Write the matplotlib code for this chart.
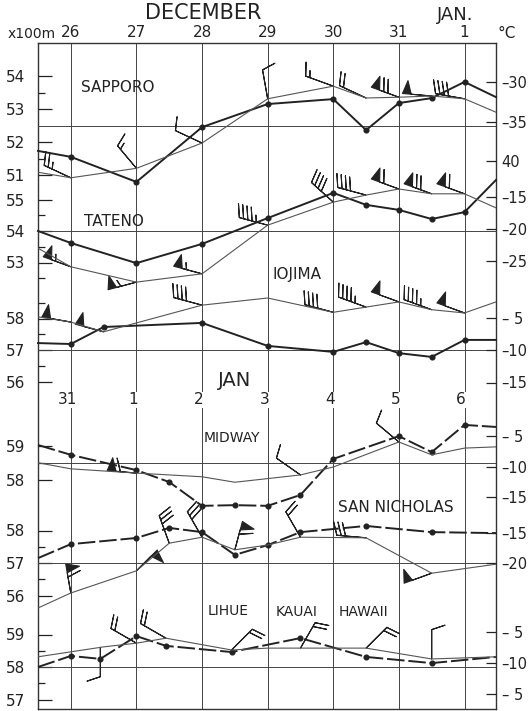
import numpy as np
import matplotlib.pyplot as plt

W, H = 530, 711
X0, X1, Y0, Y1 = 38, 496, 43, 709      # plot box in pixels
DMIN, DMAX = -0.5, 6.48                # day range across the box

dec_labels = ['26', '27', '28', '29', '30', '31', '1']
jan_labels = ['31', '1', '2', '3', '4', '5', '6']

# ---- SAPPORO ----
sap_hd = [-0.5, 0, 1, 2, 3, 4, 4.5, 5, 5.5, 6, 6.48]
sap_h = [51.73, 51.55, 50.79, 52.45, 53.15, 53.3, 52.36, 53.18, 53.33, 53.82, 53.36]
sap_td = [-0.5, 0, 1, 2, 2.75, 3, 4, 4.5, 5, 5.5, 6, 6.48]
sap_t = [-41.4, -42.1, -40.9, -37.7, -33.5, -32.1, -30.5, -32.0, -31.9, -31.75, -32.1, -33.8]
sap_bd = [0, 1, 2, 3, 4, 4.5, 5, 5.5, 6]
sap_ba = [155, 130, 155, 100, 160, 155, 160, 175, 170]
sap_bs = [25, 15, 10, 10, 15, 20, 70, 50, 40]

# ---- TATENO ----
ten_hd = [-0.5, 0, 1, 2, 3, 4, 4.5, 5, 5.5, 6, 6.48]
ten_h = [54.0, 53.62, 52.98, 53.59, 54.41, 55.21, 54.83, 54.67, 54.38, 54.6, 55.62]
ten_td = [-0.5, 0, 1, 2, 3, 4, 4.5, 5, 5.5, 6, 6.48]
ten_t = [-23.0, -25.9, -28.3, -27.0, -19.4, -15.8, -14.7, -13.75, -14.5, -14.5, -16.7]
ten_bd = [0, 1, 2, 3, 4, 4.5, 5, 5.5, 6]
ten_ba = [160, 195, 165, 165, 138, 165, 160, 160, 160]
ten_bs = [55, 55, 55, 45, 40, 40, 60, 70, 60]

# ---- IOJIMA ----
ioj_hd = [-0.5, 0, 0.5, 2, 3, 4, 4.5, 5, 5.5, 6, 6.48]
ioj_h = [57.22, 57.19, 57.73, 57.86, 57.13, 56.94, 57.25, 56.9, 56.78, 57.32, 57.32]
ioj_td = [-0.5, 0, 0.5, 2, 3, 4, 4.5, 5, 5.5, 6, 6.48]
ioj_t = [-4.9, -5.7, -7.2, -3.1, -2.0, -4.2, -3.4, -2.6, -3.8, -4.3, -2.6]
ioj_bd = [0, 0.5, 2, 4, 4.5, 5, 5.5, 6]
ioj_ba = [170, 165, 165, 165, 160, 160, 160, 160]
ioj_bs = [50, 50, 40, 40, 45, 50, 45, 50]

# ---- MIDWAY ----
mid_hd = [-0.5, 0, 1, 1.5, 2, 2.5, 3, 3.5, 4, 5, 5.5, 6, 6.48]
mid_h = [59.03, 58.74, 58.29, 57.94, 57.24, 57.26, 57.24, 57.56, 58.62, 59.29, 58.82, 59.62, 59.56]
mid_td = [-0.5, 0, 1, 2, 2.5, 3.5, 4, 5, 5.5, 6, 6.48]
mid_t = [-9.3, -10.3, -11.0, -11.6, -12.5, -11.3, -10.0, -5.9, -8.0, -6.9, -6.7]
mid_bd = [1, 3.5, 5]
mid_ba = [175, 145, 140]
mid_bs = [60, 10, 10]

# ---- SAN NICHOLAS ----
sn_hd = [-0.5, 0, 1, 1.5, 2, 2.5, 3, 3.5, 4.5, 5.5, 6.48]
sn_h = [57.15, 57.58, 57.77, 58.08, 57.95, 57.25, 57.55, 57.95, 58.14, 57.95, 57.92]
sn_td = [-0.5, 0, 1, 1.5, 2, 2.5, 3, 3.5, 4.5, 5.5, 6.48]
sn_t = [-27.5, -25.0, -21.3, -16.7, -15.7, -17.8, -17.0, -15.7, -15.8, -21.7, -20.2]
sn_bd = [0, 1, 1.5, 2, 2.5, 3.5, 4.5, 5.5]
sn_ba = [100, 45, 110, 120, 75, 120, 175, 200]
sn_bs = [60, 50, 30, 30, 60, 20, 30, 50]

# ---- LIHUE / KAUAI / HAWAII ----
lih_hd = [-0.5, 0, 0.45, 1, 1.45, 2.45, 3.5, 4.5, 5.5, 6.48]
lih_h = [58.0, 58.34, 58.25, 58.95, 58.65, 58.46, 58.89, 58.31, 58.12, 58.31]
lih_td = [-0.5, 0, 0.5, 1, 1.45, 2.45, 3, 3.5, 4.5, 5.5, 6.48]
lih_t = [-9.0, -8.2, -7.4, -6.8, -6.0, -7.9, -7.6, -7.6, -7.6, -9.35, -9.0]
lih_bd = [0.45, 1, 1.45, 2.45, 3.5, 4.5, 5.5]
lih_ba = [270, 150, 150, 45, 60, 45, 90]
lih_bs = [10, 20, 20, 20, 20, 20, 10]

INK = '#222222'
THIN = '#555555'
GRID = '#444444'

fig = plt.figure(figsize=(W / 100, H / 100), dpi=100)
box = [X0 / W, 1 - Y1 / H, (X1 - X0) / W, (Y1 - Y0) / H]

# main frame with the day grid
ax = fig.add_axes(box)
ax.set_xlim(DMIN, DMAX)
ax.set_ylim(0, 1)
ax.set_yticks([])
ax.set_xticks(range(7))
ax.set_xticklabels(dec_labels)
ax.xaxis.tick_top()
ax.tick_params(axis='x', length=0, pad=2, labelsize=11, colors=INK)
ax.grid(axis='x', color=GRID, lw=0.7)
for s in ax.spines.values():
    s.set_color('#333333')
    s.set_linewidth(1.0)


def overlay(v0, y0, k):
    # transparent axes over the frame; v0 sits at pixel row y0, k px per unit
    a = fig.add_axes(box, frameon=False)
    a.patch.set_visible(False)
    a.set_xlim(DMIN, DMAX)
    a.set_ylim(v0 - (Y1 - y0) / k, v0 + (y0 - Y0) / k)
    a.set_xticks([])
    return a


def left_scale(a, major, minor):
    a.yaxis.tick_left()
    a.set_yticks(major)
    a.set_yticks(minor, minor=True)
    a.set_yticklabels([str(m) for m in major])
    a.tick_params(axis='y', which='major', direction='in', length=10, width=0.9,
                  labelsize=11, pad=9, colors=INK)
    a.tick_params(axis='y', which='minor', direction='in', length=5, width=0.9, colors=INK)


def right_scale(a, vals, labels):
    a.yaxis.tick_right()
    a.set_yticks(vals)
    a.set_yticklabels(labels)
    a.tick_params(axis='y', direction='in', length=7, width=0.9,
                  labelsize=10.5, pad=4, colors=INK)


def barbs(a, td, tv, bd, ba, bs):
    y = np.interp(bd, td, tv)
    ang = np.radians(ba)
    u = -np.array(bs) * np.cos(ang)
    v = -np.array(bs) * np.sin(ang)
    a.barbs(bd, y, u, v, length=6.5, linewidth=0.8, color=INK,
            sizes=dict(spacing=0.15, height=0.45, width=0.3))


stations = [
    # heights, temps, barbs, height scale, temp scale, ticks, line style
    (sap_hd, sap_h, sap_td, sap_t, sap_bd, sap_ba, sap_bs,
     (54, 76, 33.0), (-35, 121.7, 7.9),
     [51, 52, 53, 54], [51.5, 53.5], 52.5,
     [-30, -35, -40], ['–30', '–35', '40'], '-'),
    (ten_hd, ten_h, ten_td, ten_t, ten_bd, ten_ba, ten_bs,
     (54, 231, 31.5), (-20, 229, 6.4),
     [53, 54, 55], [52.5, 53.5, 54.5], 54,
     [-15, -20, -25], ['–15', '–20', '–25'], '-'),
    (ioj_hd, ioj_h, ioj_td, ioj_t, ioj_bd, ioj_ba, ioj_bs,
     (57, 350, 31.5), (-10, 350, 6.5),
     [56, 57, 58], [56.5, 57.5, 58.5], 57,
     [-5, -10, -15], ['– 5', '–10', '–15'], '-'),
    (mid_hd, mid_h, mid_td, mid_t, mid_bd, mid_ba, mid_bs,
     (59, 446, 34.0), (-10, 467, 6.1),
     [58, 59], [58.5], 58.5,
     [-5, -10, -15], ['– 5', '–10', '–15'], (0, (9, 2))),
    (sn_hd, sn_h, sn_td, sn_t, sn_bd, sn_ba, sn_bs,
     (57, 563, 32.5), (-20, 563, 6.0),
     [56, 57, 58], [56.5, 57.5], 57,
     [-15, -20], ['–15', '–20'], (0, (9, 2))),
    (lih_hd, lih_h, lih_td, lih_t, lih_bd, lih_ba, lih_bs,
     (58, 667, 32.5), (-10, 663, 6.2),
     [57, 58, 59], [57.5, 58.5], 58,
     [-5, -10, -15], ['– 5', '–10', '– 5'], (0, (9, 2))),
]

for (hd, hv, td, tv, bd, ba, bs, hs, ts, maj, mnr, gl, rv, rl, ls) in stations:
    ah = overlay(*hs)
    left_scale(ah, maj, mnr)
    ah.axhline(gl, color=GRID, lw=0.7)
    ah.plot(hd, hv, color=INK, lw=1.4, ls=ls, marker='o', ms=3.4,
            markevery=list(range(1, len(hd) - 1)), clip_on=False)
    at = overlay(*ts)
    right_scale(at, rv, rl)
    at.plot(td, tv, color=THIN, lw=0.8)
    barbs(at, td, tv, bd, ba, bs)

# date row for the lower half
trans = ax.get_xaxis_transform()
row = (Y1 - 400) / (Y1 - Y0)
for i, lab in enumerate(jan_labels):
    ax.text(i - 0.05, row, lab, transform=trans, ha='center', va='center',
            fontsize=11, color=INK,
            bbox=dict(facecolor='white', edgecolor='none', pad=0.5))
ax.text(2.5, (Y1 - 380) / (Y1 - Y0), 'JAN', transform=trans, ha='center',
        va='center', fontsize=14, color=INK,
        bbox=dict(facecolor='white', edgecolor='none', pad=0.5))


def ftext(x, y, s, size=11, **kw):
    fig.text(x / W, 1 - y / H, s, ha='center', va='center', fontsize=size,
             color=INK, **kw)


ftext(203, 13, 'DECEMBER', 15)
ftext(455, 15, 'JAN.', 13)
ftext(32, 34, 'x100m', 10)
ftext(507, 34, '°C', 11)
ftext(118, 88, 'SAPPORO', 11)
ftext(114, 221, 'TATENO', 11)
ftext(297, 274, 'IOJIMA', 11)
ftext(232, 438, 'MIDWAY', 10)
ftext(396, 507, 'SAN NICHOLAS', 11)
ftext(228, 611, 'LIHUE', 10)
ftext(297, 612, 'KAUAI', 10)
ftext(363, 612, 'HAWAII', 10)

fig.savefig('out.png', dpi=100, facecolor='white')
